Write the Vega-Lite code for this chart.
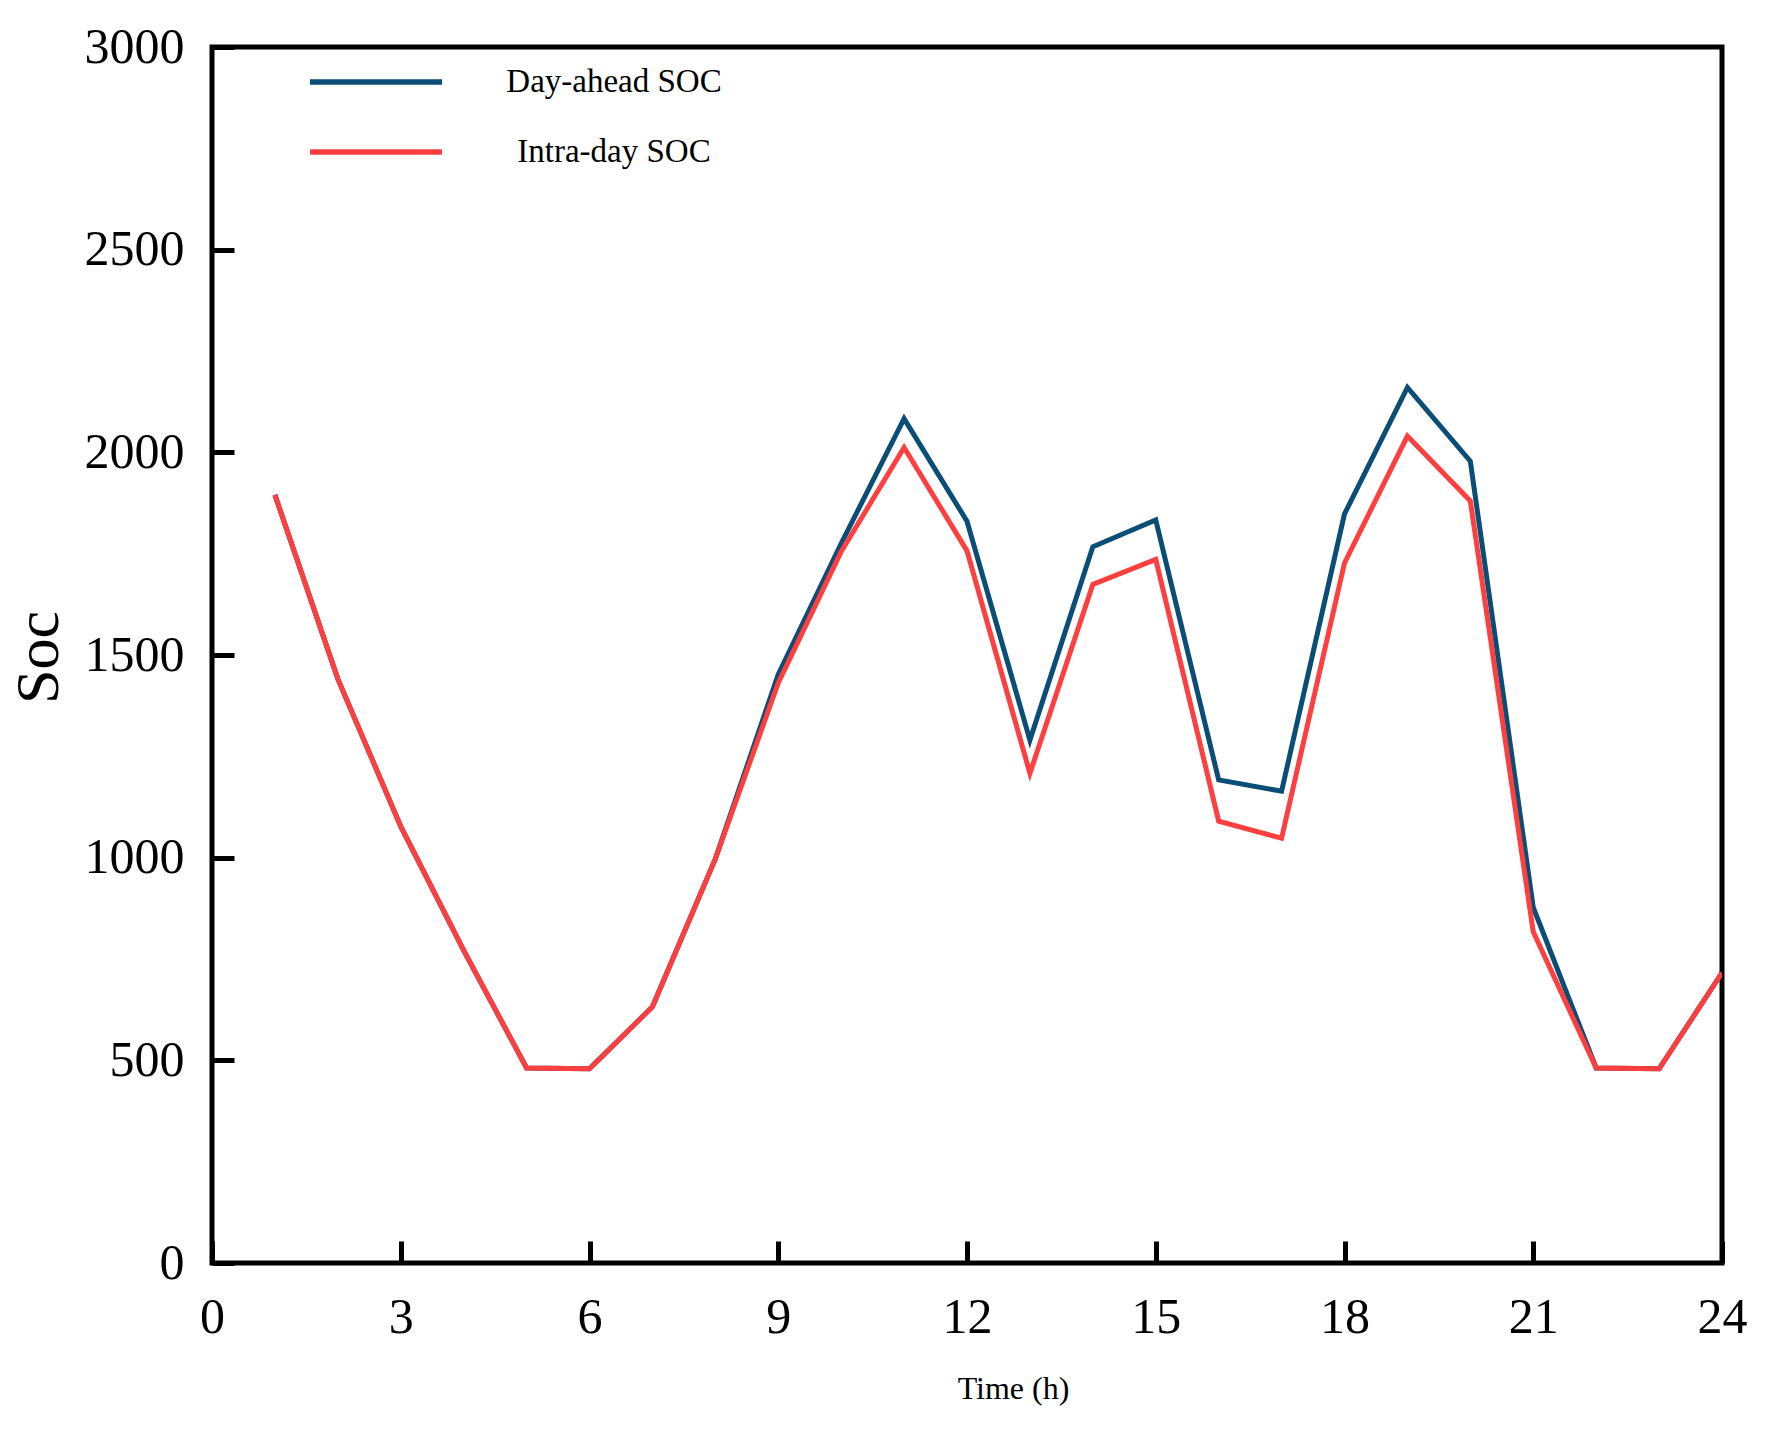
{
  "$schema": "https://vega.github.io/schema/vega-lite/v6.json",
  "width": 1510,
  "height": 1216,
  "autosize": {"type": "none"},
  "padding": {"left": 212, "top": 47, "right": 51, "bottom": 169},
  "background": "white",
  "view": {"stroke": "black", "strokeWidth": 5},
  "data": {
    "values": [
      {"hour": 1, "series": "Day-ahead SOC", "soc": 1895},
      {"hour": 2, "series": "Day-ahead SOC", "soc": 1441},
      {"hour": 3, "series": "Day-ahead SOC", "soc": 1077},
      {"hour": 4, "series": "Day-ahead SOC", "soc": 771},
      {"hour": 5, "series": "Day-ahead SOC", "soc": 481},
      {"hour": 6, "series": "Day-ahead SOC", "soc": 479},
      {"hour": 7, "series": "Day-ahead SOC", "soc": 632},
      {"hour": 8, "series": "Day-ahead SOC", "soc": 997},
      {"hour": 9, "series": "Day-ahead SOC", "soc": 1452},
      {"hour": 10, "series": "Day-ahead SOC", "soc": 1775},
      {"hour": 11, "series": "Day-ahead SOC", "soc": 2083},
      {"hour": 12, "series": "Day-ahead SOC", "soc": 1830},
      {"hour": 13, "series": "Day-ahead SOC", "soc": 1290},
      {"hour": 14, "series": "Day-ahead SOC", "soc": 1767},
      {"hour": 15, "series": "Day-ahead SOC", "soc": 1833},
      {"hour": 16, "series": "Day-ahead SOC", "soc": 1192},
      {"hour": 17, "series": "Day-ahead SOC", "soc": 1164},
      {"hour": 18, "series": "Day-ahead SOC", "soc": 1848},
      {"hour": 19, "series": "Day-ahead SOC", "soc": 2160},
      {"hour": 20, "series": "Day-ahead SOC", "soc": 1978},
      {"hour": 21, "series": "Day-ahead SOC", "soc": 877},
      {"hour": 22, "series": "Day-ahead SOC", "soc": 481},
      {"hour": 23, "series": "Day-ahead SOC", "soc": 479},
      {"hour": 24, "series": "Day-ahead SOC", "soc": 716},
      {"hour": 1, "series": "Intra-day SOC", "soc": 1895},
      {"hour": 2, "series": "Intra-day SOC", "soc": 1441},
      {"hour": 3, "series": "Intra-day SOC", "soc": 1077},
      {"hour": 4, "series": "Intra-day SOC", "soc": 771},
      {"hour": 5, "series": "Intra-day SOC", "soc": 481},
      {"hour": 6, "series": "Intra-day SOC", "soc": 479},
      {"hour": 7, "series": "Intra-day SOC", "soc": 632},
      {"hour": 8, "series": "Intra-day SOC", "soc": 997},
      {"hour": 9, "series": "Intra-day SOC", "soc": 1431},
      {"hour": 10, "series": "Intra-day SOC", "soc": 1755},
      {"hour": 11, "series": "Intra-day SOC", "soc": 2012},
      {"hour": 12, "series": "Intra-day SOC", "soc": 1757},
      {"hour": 13, "series": "Intra-day SOC", "soc": 1208},
      {"hour": 14, "series": "Intra-day SOC", "soc": 1674},
      {"hour": 15, "series": "Intra-day SOC", "soc": 1736},
      {"hour": 16, "series": "Intra-day SOC", "soc": 1090},
      {"hour": 17, "series": "Intra-day SOC", "soc": 1048},
      {"hour": 18, "series": "Intra-day SOC", "soc": 1727},
      {"hour": 19, "series": "Intra-day SOC", "soc": 2040},
      {"hour": 20, "series": "Intra-day SOC", "soc": 1880},
      {"hour": 21, "series": "Intra-day SOC", "soc": 817},
      {"hour": 22, "series": "Intra-day SOC", "soc": 481},
      {"hour": 23, "series": "Intra-day SOC", "soc": 479},
      {"hour": 24, "series": "Intra-day SOC", "soc": 716}
    ]
  },
  "mark": {"type": "line", "strokeWidth": 5, "clip": true},
  "encoding": {
    "x": {
      "field": "hour",
      "type": "quantitative",
      "scale": {"domain": [0, 24], "nice": false, "zero": false},
      "axis": {
        "title": "Time (h)",
        "values": [0, 3, 6, 9, 12, 15, 18, 21, 24],
        "format": "d",
        "grid": false,
        "domain": false,
        "tickSize": -22,
        "tickWidth": 5,
        "tickColor": "black",
        "labelPadding": 51,
        "labelFlush": false,
        "labelOverlap": false,
        "labelFont": "Liberation Serif",
        "labelFontSize": 50,
        "labelColor": "black",
        "titleFont": "Liberation Serif",
        "titleFontSize": 32,
        "titleFontWeight": "normal",
        "titleColor": "black",
        "titleX": 801,
        "titleY": 125,
        "titleBaseline": "middle",
        "titleAlign": "center"
      }
    },
    "y": {
      "field": "soc",
      "type": "quantitative",
      "scale": {"domain": [0, 3000], "nice": false},
      "axis": {
        "title": "Soc",
        "values": [0, 500, 1000, 1500, 2000, 2500, 3000],
        "format": "d",
        "grid": false,
        "domain": false,
        "tickSize": -22,
        "tickWidth": 5,
        "tickColor": "black",
        "labelPadding": 50,
        "labelFlush": false,
        "labelOverlap": false,
        "labelFont": "Liberation Serif",
        "labelFontSize": 50,
        "labelColor": "black",
        "titleFont": "Liberation Serif",
        "titleFontSize": 62,
        "titleFontWeight": "normal",
        "titleColor": "black",
        "titleX": -174,
        "titleY": 610,
        "titleAngle": -90,
        "titleBaseline": "middle",
        "titleAlign": "center"
      }
    },
    "color": {
      "field": "series",
      "type": "nominal",
      "scale": {"domain": ["Day-ahead SOC", "Intra-day SOC"], "range": ["#0a4d77", "#fd3f3f"]},
      "legend": {
        "title": null,
        "orient": "none",
        "legendX": 95,
        "legendY": 15,
        "padding": 0,
        "symbolType": "stroke",
        "symbolSize": 17424,
        "symbolStrokeWidth": 5.5,
        "clipHeight": 40,
        "rowPadding": 30,
        "labelAlign": "center",
        "labelOffset": 169,
        "labelFont": "Liberation Serif",
        "labelFontSize": 33,
        "labelColor": "black",
        "labelLimit": 0
      }
    }
  }
}
